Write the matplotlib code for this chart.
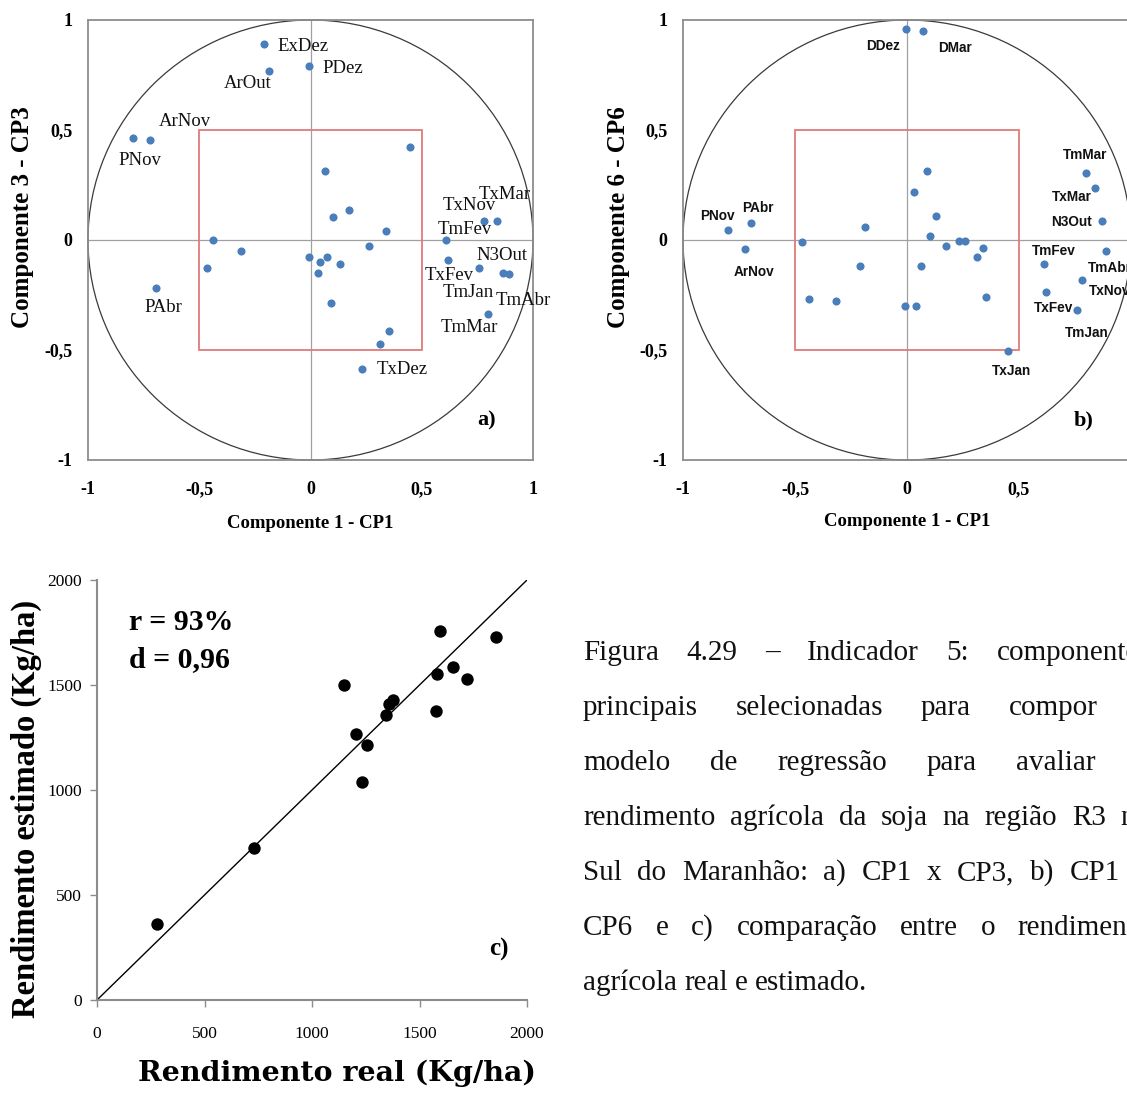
import matplotlib
matplotlib.use("Agg")
import matplotlib.pyplot as plt
from matplotlib.patches import Circle, Rectangle

# ---- panel a) CP1 x CP3 : labelled variables ----
a_names = ["ExDez", "ArOut", "PDez", "ArNov", "PNov", "PAbr", "TxNov", "TxMar",
           "TmFev", "TxFev", "TmJan", "N3Out", "TmAbr", "TmMar", "TxDez"]
a_cp1 = [-0.207, -0.185, -0.006, -0.722, -0.796, -0.694, 0.781, 0.837,
         0.610, 0.619, 0.758, 0.867, 0.890, 0.799, 0.231]
a_cp3 = [0.889, 0.769, 0.792, 0.455, 0.463, -0.219, 0.088, 0.088,
         0.000, -0.090, -0.129, -0.148, -0.156, -0.337, -0.585]
# unlabelled variables
a_other_cp1 = [0.449, 0.063, 0.101, 0.173, 0.340, -0.436, -0.313, -0.466, -0.006,
               0.042, 0.075, 0.033, 0.131, 0.263, 0.093, 0.352, 0.312]
a_other_cp3 = [0.424, 0.314, 0.106, 0.138, 0.039, 0.000, -0.051, -0.129, -0.078,
               -0.100, -0.078, -0.148, -0.109, -0.028, -0.286, -0.413, -0.473]

# ---- panel b) CP1 x CP6 ----
b_names = ["DDez", "DMar", "TmMar", "TxMar", "N3Out", "PNov", "PAbr", "ArNov",
           "TmFev", "TmAbr", "TxNov", "TxFev", "TmJan", "TxJan"]
b_cp1 = [-0.006, 0.071, 0.801, 0.839, 0.871, -0.798, -0.696, -0.725,
         0.612, 0.890, 0.780, 0.620, 0.757, 0.449]
b_cp6 = [0.960, 0.949, 0.305, 0.237, 0.087, 0.046, 0.078, -0.039,
         -0.111, -0.051, -0.180, -0.238, -0.317, -0.505]
b_other_cp1 = [0.089, 0.031, 0.129, -0.186, -0.467, 0.101, 0.231, 0.260, 0.173,
               0.339, -0.210, 0.063, 0.311, -0.438, -0.317, -0.009, 0.042, 0.353]
b_other_cp6 = [0.314, 0.219, 0.108, 0.058, -0.009, 0.018, -0.006, -0.006, -0.028,
               -0.036, -0.120, -0.120, -0.079, -0.268, -0.278, -0.299, -0.299, -0.257]

# ---- panel c) real vs estimated yield ----
yield_real = [277, 730, 1148, 1205, 1258, 1233, 1345, 1360, 1375, 1575,
              1583, 1595, 1655, 1722, 1858]
yield_est = [363, 722, 1500, 1267, 1216, 1038, 1355, 1409, 1430, 1375,
             1553, 1757, 1585, 1529, 1730]

pca_ticks = [-1, -0.5, 0, 0.5, 1]
pca_ticklabels = ["-1", "-0,5", "0", "0,5", "1"]
yield_ticks = [0, 500, 1000, 1500, 2000]

caption_lines = [
    "Figura 4.29 \u2013 Indicador 5: componentes",
    "principais selecionadas para compor o",
    "modelo de regress\u00e3o para avaliar o",
    "rendimento agr\u00edcola da soja na regi\u00e3o R3 no",
    "Sul do Maranh\u00e3o: a) CP1 x CP3, b) CP1 x",
    "CP6 e c) compara\u00e7\u00e3o entre o rendimento",
    "agr\u00edcola real e estimado.",
]

# label offsets from their dot, in pixels (dx right, dy down)
a_offsets = {"ExDez": (39, 2), "ArOut": (-22, 13), "PDez": (34, 3), "ArNov": (35, -18),
             "PNov": (7, 22), "PAbr": (7, 19), "TxNov": (-15, -15), "TxMar": (8, -26),
             "TmFev": (19, -11), "TxFev": (1, 16), "TmJan": (-11, 24), "N3Out": (-1, -17),
             "TmAbr": (15, 26), "TmMar": (-19, 13), "TxDez": (40, 1)}
b_offsets = {"DDez": (-23, 17), "DMar": (32, 17), "TmMar": (-1, -18), "TxMar": (-23, 9),
             "N3Out": (-31, 1), "PNov": (-11, -14), "PAbr": (7, -15), "ArNov": (9, 23),
             "TmFev": (10, -13), "TmAbr": (3, 17), "TxNov": (28, 11), "TxFev": (8, 16),
             "TmJan": (10, 23), "TxJan": (4, 20)}

W, H = 1127, 1097
SERIF = ["Liberation Serif", "DejaVu Serif"]
SANS = ["Liberation Sans", "DejaVu Sans"]
DOT_BLUE = "#4a7ebb"
FRAME = "#8c8c8c"


def fx(x):
    return x / W


def fy(y):
    return 1 - y / H


def box(x0, y0, x1, y1):
    return [x0 / W, 1 - y1 / H, (x1 - x0) / W, (y1 - y0) / H]


fig = plt.figure(figsize=(W / 100, H / 100), dpi=100)
fig.patch.set_facecolor("white")


def pca_panel(rect, xs, ys, names, offsets, ox, oy, tag, lab_family, lab_size, lab_weight):
    ax = fig.add_axes(rect)
    ax.set_xlim(-1, 1)
    ax.set_ylim(-1, 1)
    ax.axhline(0, color="#a0a0a0", lw=0.9, zorder=1)
    ax.axvline(0, color="#a0a0a0", lw=0.9, zorder=1)
    ax.add_patch(Circle((0, 0), 1, fill=False, ec="#3a3a3a", lw=0.9, clip_on=False, zorder=1))
    ax.add_patch(Rectangle((-0.5, -0.5), 1, 1, fill=False, ec="#e07a7a", lw=1.3, zorder=2))
    ax.scatter(xs + ox, ys + oy, s=34, color=DOT_BLUE, linewidths=0, zorder=3)
    for name, x, y in zip(names, xs, ys):
        dx, dy = offsets[name]
        ax.annotate(name, (x, y), xytext=(dx, -dy), textcoords="offset pixels",
                    ha="center", va="center", fontsize=lab_size, family=lab_family,
                    fontweight=lab_weight, color="#111111", zorder=4)
    ax.set_xticks(pca_ticks)
    ax.set_xticklabels(pca_ticklabels)
    ax.set_yticks(pca_ticks)
    ax.set_yticklabels(pca_ticklabels)
    ax.tick_params(axis="x", length=0, pad=15)
    ax.tick_params(axis="y", length=0, pad=11)
    for lab in ax.get_xticklabels() + ax.get_yticklabels():
        lab.set_family(SERIF)
        lab.set_fontsize(13)
        lab.set_fontweight("bold")
    for s in ax.spines.values():
        s.set_color(FRAME)
        s.set_linewidth(1.3)
    ax.text(0.79, -0.82, tag, ha="center", va="center", fontsize=16,
            fontweight="bold", family=SERIF)
    return ax


# panel a
pca_panel(box(88, 20, 533, 460), a_cp1, a_cp3, a_names, a_offsets,
          a_other_cp1, a_other_cp3, "a)", SERIF, 13.5, "normal")
fig.text(fx(310), fy(523), "Componente 1 - CP1", ha="center", va="center",
         fontsize=13.5, fontweight="bold", family=SERIF)
fig.text(fx(23), fy(217), "Componente 3 - CP3", ha="center", va="center",
         rotation=90, fontsize=18, fontweight="bold", family=SERIF)

# panel b (runs past the right edge of the page, as in the original)
pca_panel(box(683, 20, 1131, 460), b_cp1, b_cp6, b_names, b_offsets,
          b_other_cp1, b_other_cp6, "b)", SANS, 9.8, "bold")
fig.text(fx(907), fy(521), "Componente 1 - CP1", ha="center", va="center",
         fontsize=13.5, fontweight="bold", family=SERIF)
fig.text(fx(618), fy(217), "Componente 6 - CP6", ha="center", va="center",
         rotation=90, fontsize=18, fontweight="bold", family=SERIF)

# panel c
axc = fig.add_axes(box(97, 580, 527, 1000))
axc.set_xlim(0, 2000)
axc.set_ylim(0, 2000)
axc.axline((0, 0), slope=1, color="black", lw=1.0, zorder=1)
axc.scatter(yield_real, yield_est, s=80, color="black", linewidths=0, zorder=3)
axc.set_xticks(yield_ticks)
axc.set_yticks(yield_ticks)
axc.tick_params(direction="out", length=5, width=1, color=FRAME)
axc.tick_params(axis="x", pad=14)
axc.tick_params(axis="y", pad=6)
for lab in axc.get_xticklabels() + axc.get_yticklabels():
    lab.set_family(SERIF)
    lab.set_fontsize(12.5)
for side in ["top", "right"]:
    axc.spines[side].set_visible(False)
for side in ["left", "bottom"]:
    axc.spines[side].set_color(FRAME)
    axc.spines[side].set_linewidth(1.5)
axc.text(0.074, 0.90, "r = 93%", transform=axc.transAxes, ha="left", va="center",
         fontsize=21.5, fontweight="bold", family=SERIF)
axc.text(0.074, 0.81, "d = 0,96", transform=axc.transAxes, ha="left", va="center",
         fontsize=21.5, fontweight="bold", family=SERIF)
axc.text(0.935, 0.12, "c)", transform=axc.transAxes, ha="center", va="center",
         fontsize=18, fontweight="bold", family=SERIF)
fig.text(fx(337), fy(1073), "Rendimento real (Kg/ha)", ha="center", va="center",
         fontsize=20.5, fontweight="bold", family=["DejaVu Serif"])
fig.text(fx(26), fy(809), "Rendimento estimado (Kg/ha)", ha="center", va="center",
         rotation=90, fontsize=23.5, fontweight="bold", family=SERIF)

# caption, justified like the source text block
cap_left, cap_right = 583, 1150
cap_size = 21
renderer = fig.canvas.get_renderer()
for i, line in enumerate(caption_lines):
    base_y = 660 + 55 * i
    words = line.split(" ")
    texts = [fig.text(0, fy(base_y), w, ha="left", va="baseline", fontsize=cap_size,
                      family=SERIF, color="#111111") for w in words]
    widths = [t.get_window_extent(renderer).width for t in texts]
    if i < len(caption_lines) - 1:
        gap = (cap_right - cap_left - sum(widths)) / (len(words) - 1)
    else:
        gap = 0.25 * cap_size / 72 * 100
    x = cap_left
    for t, w in zip(texts, widths):
        t.set_x(fx(x))
        x += w + gap

fig.savefig("out.png", dpi=100)
